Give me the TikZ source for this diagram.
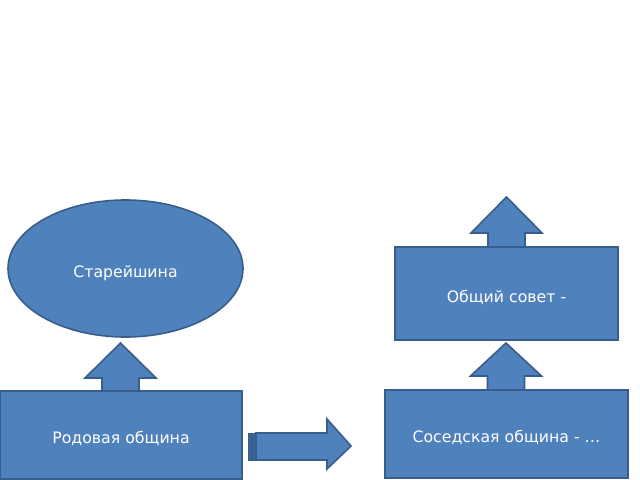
\documentclass[tikz,border=0pt]{standalone}
\usepackage{fontspec}
\setmainfont{DejaVu Sans}
\usetikzlibrary{shapes.geometric}
\definecolor{boxfill}{RGB}{79,129,189}
\definecolor{boxline}{RGB}{56,93,138}
\definecolor{stripe}{RGB}{60,100,150}
% up block arrow: centre x, tip y, head base y, shaft bottom y
\newcommand{\upArrow}[4]{%
  \fill[boxfill, draw=boxline, line width=1.6bp]
    (#1-18.5,#4) -- (#1-18.5,#3) -- (#1-35.5,#3) -- (#1,#2)
    -- (#1+35.5,#3) -- (#1+18.5,#3) -- (#1+18.5,#4) -- cycle;}

\begin{document}
\begin{tikzpicture}[x=1bp, y=-1bp]
  \tikzset{
    blockbox/.style={rectangle, fill=boxfill, draw=boxline, line width=1.6bp,
      text=white, font=\fontsize{15.8}{18}\selectfont, inner sep=0pt,
      text height=17bp, text depth=0pt},
    blockoval/.style={blockbox, ellipse}
  }
  \useasboundingbox (0,0) rectangle (640,480);

  % arrows first, boxes are drawn over their shafts
  \upArrow{120.5}{343}{378}{392}
  \upArrow{506}{343}{376}{392}
  \upArrow{506.5}{197}{233}{249}

  \node[blockoval, minimum width=235bp, minimum height=137bp] (elder) at (125.5,268.5) {Старейшина};
  \node[blockbox, minimum width=223bp, minimum height=93bp] (council) at (506.5,293.5) {Общий совет -};
  \node[blockbox, minimum width=242bp, minimum height=88bp] (clan) at (121,435) {Родовая община};
  \node[blockbox, minimum width=243bp, minimum height=88bp] (neighbour) at (506.5,434) {Соседская община - \dots};

  % striped arrow between the two communities
  \fill[stripe, draw=boxline, line width=0.8bp] (248,433) rectangle (251,460);
  \fill[stripe, draw=boxline, line width=0.8bp] (252.5,433) rectangle (255,460);
  \fill[boxfill, draw=boxline, line width=1.6bp]
    (256,433) -- (327,433) -- (327,419) -- (351,446) -- (327,469)
    -- (327,460) -- (256,460) -- cycle;
\end{tikzpicture}
\end{document}
